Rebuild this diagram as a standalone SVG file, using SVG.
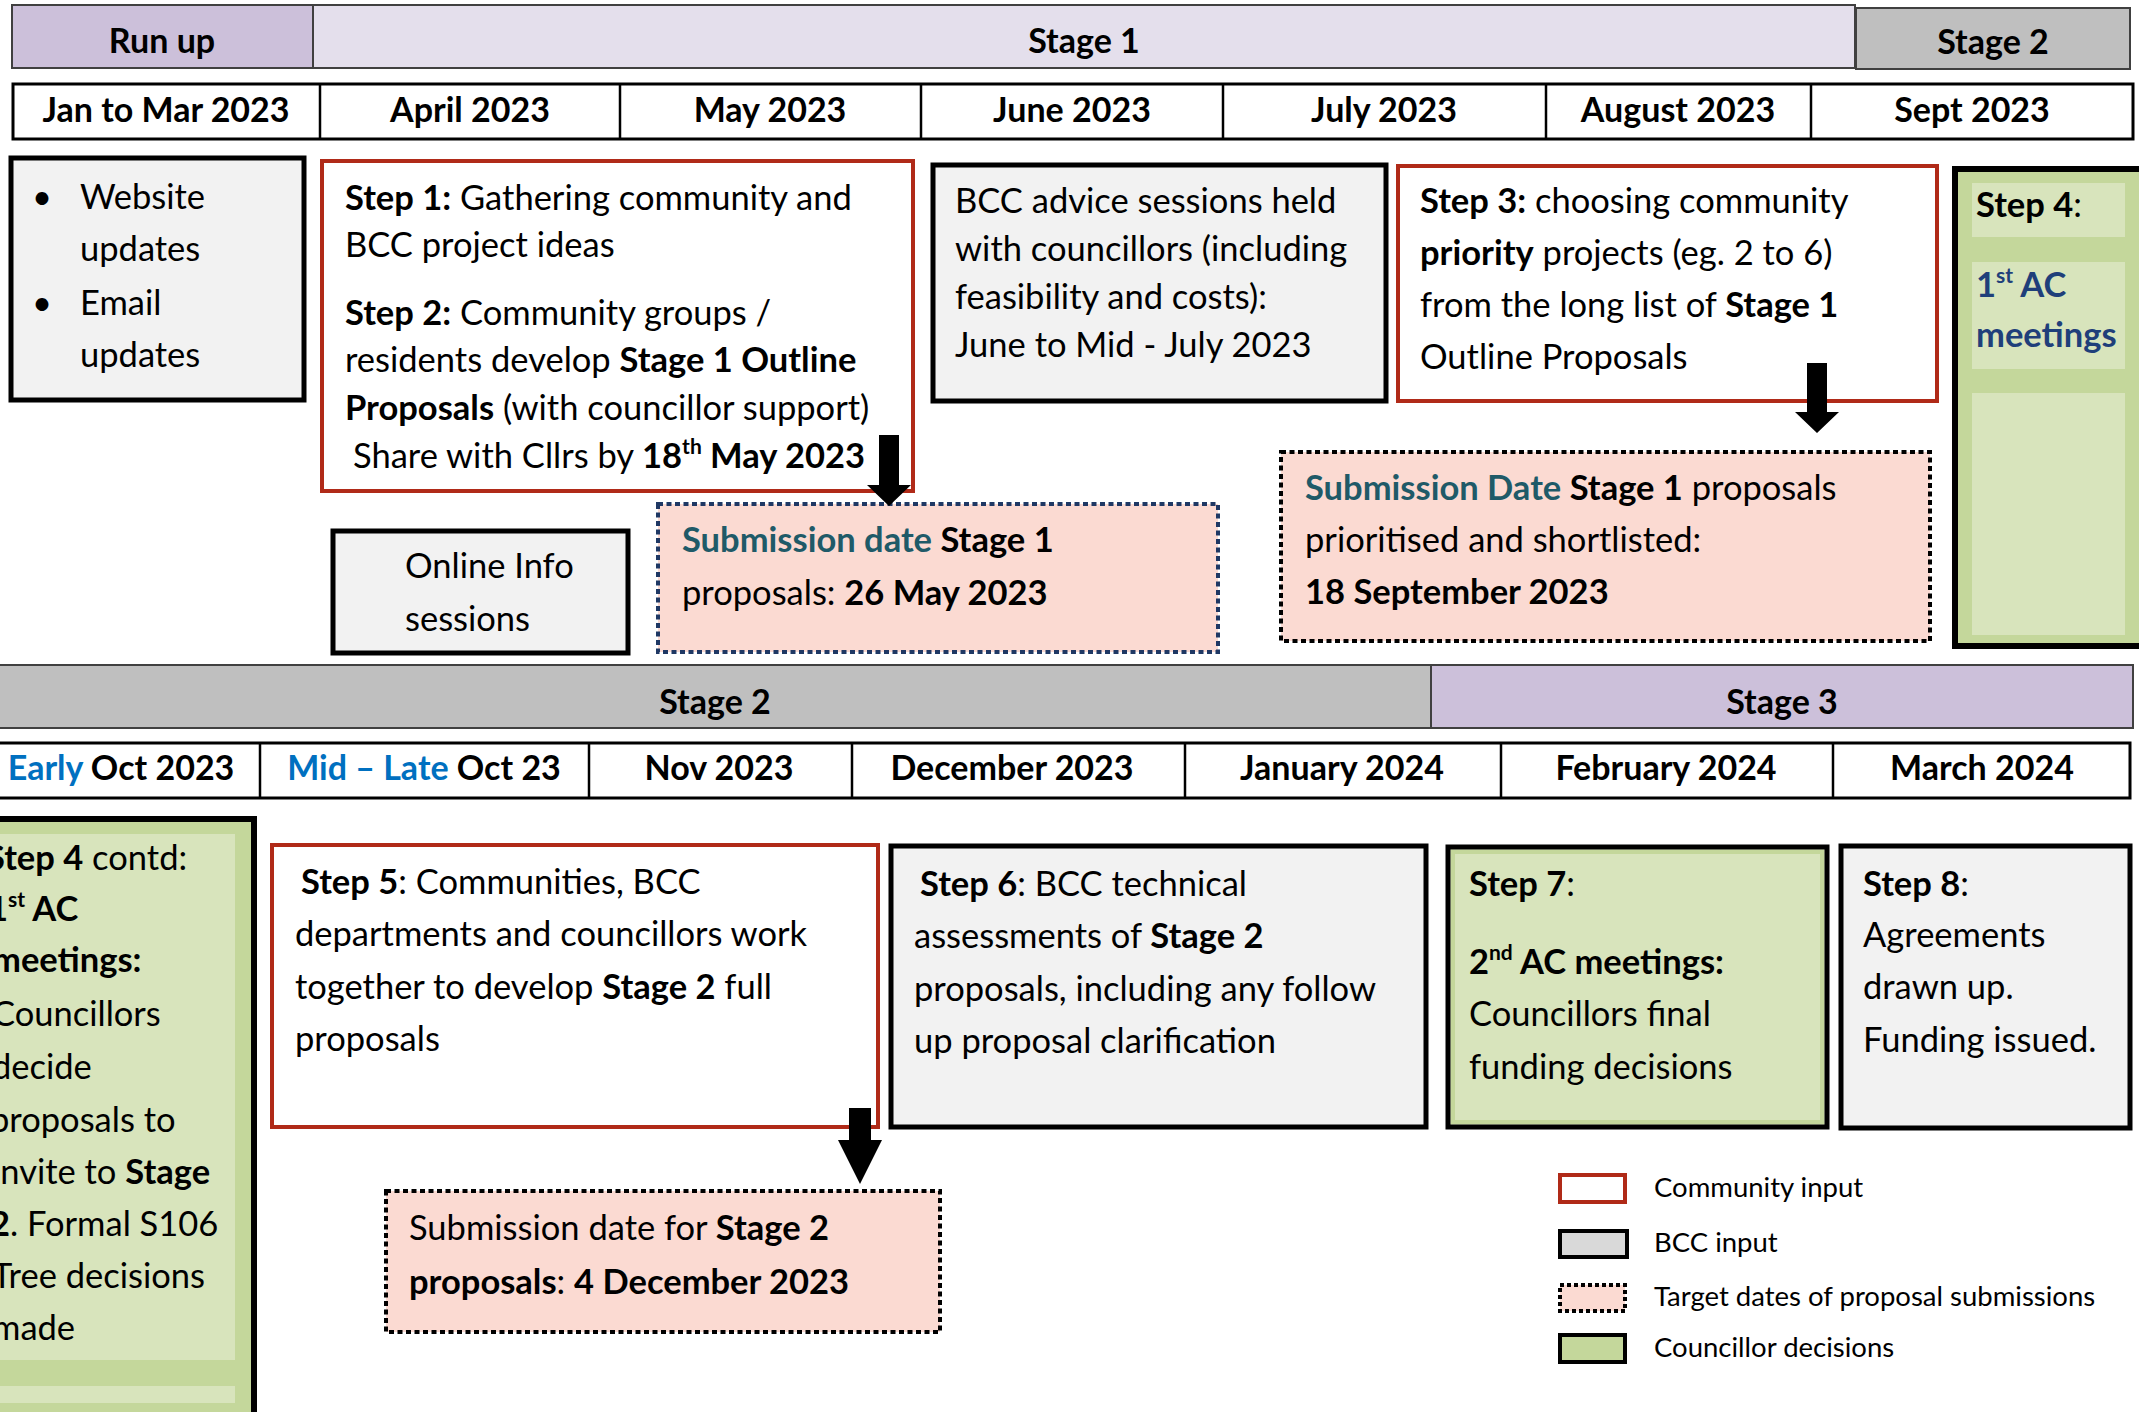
<svg xmlns="http://www.w3.org/2000/svg" width="2139" height="1412" viewBox="0 0 2139 1412">
<style>
text { font-family: Lato, "Open Sans", "Liberation Sans", sans-serif; font-size: 34.5px; fill: #000; }
.b { font-weight: bold; }
.hdr { font-size: 34px; font-weight: bold; text-anchor: middle; }
.band { stroke: #404040; stroke-width: 2; }
.grid { fill: #fff; stroke: #000; stroke-width: 3; }
.gl { stroke: #000; stroke-width: 2.5; }
.bcc { fill: #f2f2f2; stroke: #000; stroke-width: 5; }
.com { fill: #fff; stroke: #b02a18; stroke-width: 4; }
.sub { fill: #fbdad2; stroke: #000; stroke-width: 4; stroke-dasharray: 5 3.5; }
.subb { fill: #fbdad2; stroke: #1f3864; stroke-width: 4; stroke-dasharray: 5 3.5; }
.grn { fill: #c4d79b; stroke: #000; stroke-width: 6; }
.cell { fill: #d8e4bc; }
.teal { fill: #1f5a68; }
.blue { fill: #0070c0; }
.navy { fill: #1f3f7a; }
.arrow { fill: #000; }
.leg { font-size: 27.5px; }
</style>

<g id="stage-row-1">
  <rect class="band" x="12" y="5" width="301" height="63" fill="#ccc0da"/>
  <rect class="band" x="313" y="5" width="1542" height="63" fill="#e4dfec"/>
  <rect class="band" x="1856" y="8" width="274" height="61" fill="#bfbfbf"/>
  <text class="hdr" x="162" y="53">Run up</text>
  <text class="hdr" x="1084" y="53">Stage 1</text>
  <text class="hdr" x="1993" y="54">Stage 2</text>
</g>

<g id="month-row-1">
  <rect class="grid" x="13" y="84" width="2120" height="55"/>
  <line class="gl" x1="320" y1="84" x2="320" y2="139"/>
  <line class="gl" x1="620" y1="84" x2="620" y2="139"/>
  <line class="gl" x1="921" y1="84" x2="921" y2="139"/>
  <line class="gl" x1="1223" y1="84" x2="1223" y2="139"/>
  <line class="gl" x1="1546" y1="84" x2="1546" y2="139"/>
  <line class="gl" x1="1811" y1="84" x2="1811" y2="139"/>
  <text class="hdr" x="166" y="122">Jan to Mar 2023</text>
  <text class="hdr" x="470" y="122">April 2023</text>
  <text class="hdr" x="770" y="122">May 2023</text>
  <text class="hdr" x="1072" y="122">June 2023</text>
  <text class="hdr" x="1384" y="122">July 2023</text>
  <text class="hdr" x="1678" y="122">August 2023</text>
  <text class="hdr" x="1972" y="122">Sept 2023</text>
</g>

<g id="website-updates">
  <rect class="bcc" x="11" y="158" width="293" height="242"/>
  <text x="32" y="209">•</text>
  <text x="80" y="209">Website</text>
  <text x="80" y="261">updates</text>
  <text x="32" y="315">•</text>
  <text x="80" y="315">Email</text>
  <text x="80" y="367">updates</text>
</g>

<g id="step1-2">
  <rect class="com" x="322" y="161" width="591" height="330"/>
  <text x="345" y="210"><tspan class="b">Step 1:</tspan> Gathering community and</text>
  <text x="345" y="257">BCC project ideas</text>
  <text x="345" y="325"><tspan class="b">Step 2:</tspan> Community groups /</text>
  <text x="345" y="372">residents develop <tspan class="b">Stage 1 Outline</tspan></text>
  <text x="345" y="420"><tspan class="b">Proposals</tspan> (with councillor support)</text>
  <text x="353" y="468">Share with Cllrs by <tspan class="b">18</tspan><tspan class="b" font-size="21" dy="-14">th</tspan><tspan class="b" dy="14"> May 2023</tspan></text>
</g>

<g id="bcc-advice">
  <rect class="bcc" x="933" y="165" width="453" height="236"/>
  <text x="955" y="213">BCC advice sessions held</text>
  <text x="955" y="261">with councillors (including</text>
  <text x="955" y="309">feasibility and costs):</text>
  <text x="955" y="357">June to Mid - July 2023</text>
</g>

<g id="step3">
  <rect class="com" x="1398" y="166" width="539" height="235"/>
  <text x="1420" y="213"><tspan class="b">Step 3:</tspan> choosing community</text>
  <text x="1420" y="265"><tspan class="b">priority</tspan> projects (eg. 2 to 6)</text>
  <text x="1420" y="317">from the long list of <tspan class="b">Stage 1</tspan></text>
  <text x="1420" y="369">Outline Proposals</text>
</g>

<g id="step4">
  <rect class="grn" x="1955" y="169" width="210" height="477"/>
  <rect class="cell" x="1972" y="183" width="153" height="54"/>
  <rect class="cell" x="1972" y="262" width="153" height="107"/>
  <rect class="cell" x="1972" y="393" width="153" height="242"/>
  <text class="b" x="1976" y="217">Step 4<tspan font-weight="normal">:</tspan></text>
  <text class="b navy" x="1976" y="297">1<tspan font-size="21" dy="-14">st</tspan><tspan dy="14"> AC</tspan></text>
  <text class="b navy" x="1976" y="347">meetings</text>
</g>

<g id="online-info">
  <rect class="bcc" x="333" y="531" width="295" height="122"/>
  <text x="405" y="578">Online Info</text>
  <text x="405" y="631">sessions</text>
</g>

<g id="submission-stage1">
  <rect class="subb" x="658" y="504" width="560" height="148"/>
  <text x="682" y="552"><tspan class="b teal">Submission date</tspan><tspan class="b"> Stage 1</tspan></text>
  <text x="682" y="605">proposals: <tspan class="b">26 May 2023</tspan></text>
</g>

<g id="submission-shortlist">
  <rect class="sub" x="1281" y="452" width="649" height="189"/>
  <text x="1305" y="500"><tspan class="b teal">Submission Date</tspan><tspan class="b"> Stage 1</tspan> proposals</text>
  <text x="1305" y="552">prioritised and shortlisted:</text>
  <text class="b" x="1305" y="604">18 September 2023</text>
</g>

<g id="stage-row-2">
  <rect class="band" x="-5" y="665" width="1436" height="63" fill="#bfbfbf"/>
  <rect class="band" x="1431" y="665" width="702" height="63" fill="#ccc0da"/>
  <text class="hdr" x="715" y="714">Stage 2</text>
  <text class="hdr" x="1782" y="714">Stage 3</text>
</g>

<g id="month-row-2">
  <rect class="grid" x="-5" y="743" width="2135" height="55"/>
  <line class="gl" x1="260" y1="743" x2="260" y2="798"/>
  <line class="gl" x1="589" y1="743" x2="589" y2="798"/>
  <line class="gl" x1="852" y1="743" x2="852" y2="798"/>
  <line class="gl" x1="1185" y1="743" x2="1185" y2="798"/>
  <line class="gl" x1="1501" y1="743" x2="1501" y2="798"/>
  <line class="gl" x1="1833" y1="743" x2="1833" y2="798"/>
  <text class="hdr" x="121" y="780"><tspan class="blue">Early</tspan> Oct 2023</text>
  <text class="hdr" x="424" y="780"><tspan class="blue">Mid – Late</tspan> Oct 23</text>
  <text class="hdr" x="719" y="780">Nov 2023</text>
  <text class="hdr" x="1012" y="780">December 2023</text>
  <text class="hdr" x="1342" y="780">January 2024</text>
  <text class="hdr" x="1666" y="780">February 2024</text>
  <text class="hdr" x="1982" y="780">March 2024</text>
</g>

<g id="step4-contd">
  <rect class="grn" x="-30" y="819" width="284" height="620"/>
  <rect class="cell" x="-20" y="834" width="255" height="526"/>
  <rect class="cell" x="-20" y="1386" width="255" height="17"/>
  <text x="-14" y="870"><tspan class="b">Step 4</tspan> contd:</text>
  <text class="b" x="-12" y="921" fill="#1f497d">1<tspan font-size="21" dy="-14">st</tspan><tspan dy="14"> AC</tspan></text>
  <text class="b" x="-8" y="972" fill="#1f497d">meetings:</text>
  <text x="-8" y="1026">Councillors</text>
  <text x="-8" y="1079">decide</text>
  <text x="-10" y="1132">proposals to</text>
  <text x="-8" y="1184">invite to <tspan class="b">Stage</tspan></text>
  <text x="-10" y="1236"><tspan class="b">2</tspan>. Formal S106</text>
  <text x="-8" y="1288">Tree decisions</text>
  <text x="-8" y="1340">made</text>
</g>

<g id="step5">
  <rect class="com" x="272" y="845" width="606" height="282"/>
  <text x="301" y="894"><tspan class="b">Step 5</tspan>: Communities, BCC</text>
  <text x="295" y="946">departments and councillors work</text>
  <text x="295" y="999">together to develop <tspan class="b">Stage 2</tspan> full</text>
  <text x="295" y="1051">proposals</text>
</g>

<g id="submission-stage2">
  <rect class="sub" x="386" y="1191" width="554" height="141"/>
  <text x="409" y="1240">Submission date for <tspan class="b">Stage 2</tspan></text>
  <text x="409" y="1294"><tspan class="b">proposals</tspan>: <tspan class="b">4 December 2023</tspan></text>
</g>

<g id="step6">
  <rect class="bcc" x="891" y="846" width="535" height="281"/>
  <text x="920" y="896"><tspan class="b">Step 6</tspan>: BCC technical</text>
  <text x="914" y="948">assessments of <tspan class="b">Stage 2</tspan></text>
  <text x="914" y="1001">proposals, including any follow</text>
  <text x="914" y="1053">up proposal clarification</text>
</g>

<g id="step7">
  <rect x="1448" y="847" width="379" height="280" fill="#d8e4bc" stroke="#000" stroke-width="5"/>
  <rect x="1453" y="852" width="369" height="270" fill="none" stroke="#c4d79b" stroke-width="4"/>
  <text x="1469" y="896"><tspan class="b">Step 7</tspan>:</text>
  <text class="b" x="1469" y="974" fill="#10306e">2<tspan font-size="21" dy="-14">nd</tspan><tspan dy="14"> AC meetings:</tspan></text>
  <text x="1469" y="1026">Councillors final</text>
  <text x="1469" y="1079">funding decisions</text>
</g>

<g id="step8">
  <rect class="bcc" x="1841" y="846" width="289" height="282"/>
  <text x="1863" y="896"><tspan class="b">Step 8</tspan>:</text>
  <text x="1863" y="947">Agreements</text>
  <text x="1863" y="999">drawn up.</text>
  <text x="1863" y="1052">Funding issued.</text>
</g>

<g id="legend">
  <rect x="1560" y="1175" width="65" height="27" fill="#fff" stroke="#b02a18" stroke-width="4"/>
  <text class="leg" x="1654" y="1197">Community input</text>
  <rect x="1560" y="1231" width="67" height="26" fill="#d9d9d9" stroke="#000" stroke-width="4"/>
  <text class="leg" x="1654" y="1252">BCC input</text>
  <rect x="1560" y="1285" width="65" height="26" fill="#fbdad2" stroke="#000" stroke-width="4" stroke-dasharray="4 3"/>
  <text class="leg" x="1654" y="1306">Target dates of proposal submissions</text>
  <rect x="1560" y="1335" width="65" height="27" fill="#c4d79b" stroke="#000" stroke-width="4"/>
  <text class="leg" x="1654" y="1357">Councillor decisions</text>
</g>

<g id="connectors">
  <path class="arrow" d="M879,435 H899 V485 H911 L889,506 L867,485 H879 Z"/>
  <path class="arrow" d="M1807,363 H1827 V412 H1839 L1817,433 L1795,412 H1807 Z"/>
  <path class="arrow" d="M849,1108 H871 V1140 H882 L860,1184 L838,1140 H849 Z"/>
</g>
</svg>
